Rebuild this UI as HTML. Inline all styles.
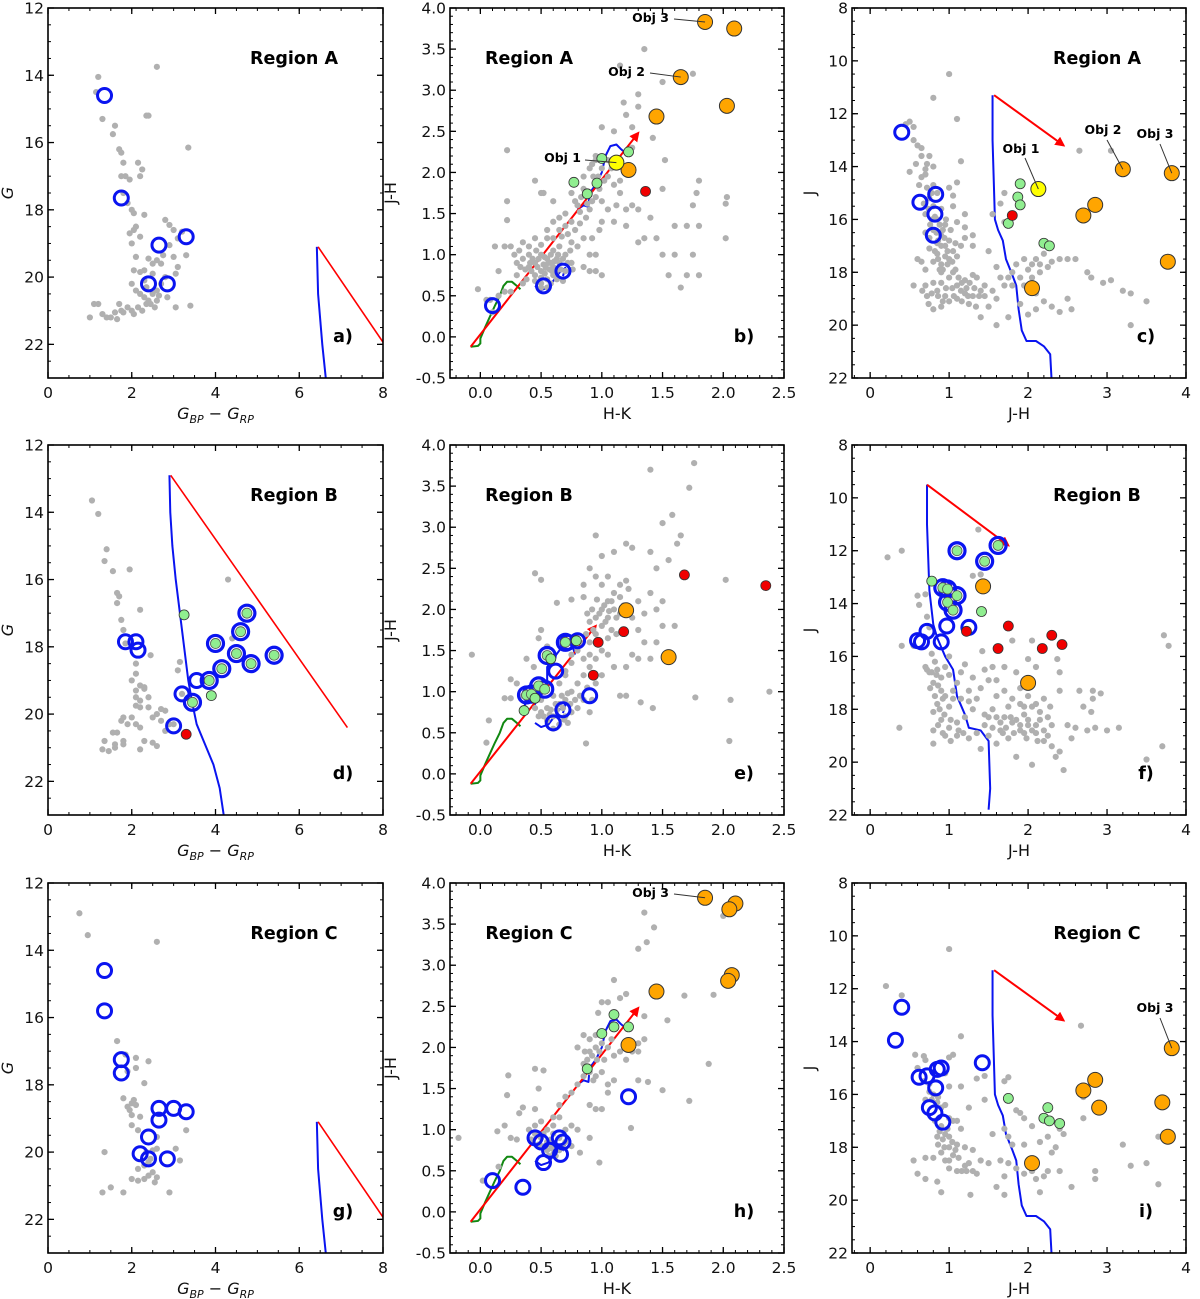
<!DOCTYPE html>
<html><head><meta charset="utf-8"><style>
html,body{margin:0;padding:0;background:#fff}
svg{display:block}
text{font-family:"DejaVu Sans","Liberation Sans",sans-serif}
</style></head><body>
<svg id="fig" xmlns="http://www.w3.org/2000/svg" width="1200" height="1299" viewBox="0 0 1200 1299"></svg>
<script>
// ---------------- DATA ----------------
const aGray=[[1.2,14.05],[1.15,14.5],[1.3,15.3],[1.6,15.5],[1.55,15.75],[1.7,16.2],[1.75,16.3],[1.8,16.6],[1.75,17],[1.85,17],[1.95,17.1],[2.15,16.6],[2.25,16.8],[2.2,17],[1.8,17.5],[1.9,17.8],[2.0,18],[2.05,18.1],[2.3,18.15],[2.35,15.2],[2.4,15.2],[2.6,13.75],[3.35,16.15],[1.95,18.7],[2.05,18.6],[2.1,18.5],[2.2,18.8],[2.0,19.0],[2.1,19.4],[2.05,19.8],[2.3,19.8],[2.4,19.45],[2.5,19.6],[2.6,19.5],[2.7,19.6],[2.8,18.3],[2.9,18.45],[3.0,18.6],[3.1,18.85],[3.2,18.65],[2.9,19.05],[3.0,19.4],[3.3,19.35],[2.0,20.2],[2.1,20.4],[2.2,20.5],[2.3,20.6],[2.4,20.7],[2.5,20.5],[2.6,20.4],[2.7,20.2],[2.8,20.0],[3.05,19.9],[3.1,19.7],[1.0,21.2],[1.1,20.8],[1.2,20.8],[1.3,21.1],[1.5,21.2],[1.65,21.25],[1.7,20.8],[1.75,21.0],[1.8,21.05],[1.9,20.9],[2.0,21.0],[2.05,21.1],[2.15,20.9],[2.25,21.0],[2.35,20.8],[2.45,20.8],[2.55,20.9],[2.65,20.55],[3.05,20.9],[3.4,20.85],[2.3,20.1],[2.5,19.9],[2.2,19.85],[2.35,20.3],[2.6,20.7],[1.4,21.2],[1.6,21.05],[2.75,19.35],[2.85,20.6]];
const aRings=[[1.35,14.6],[1.75,17.65],[2.65,19.05],[3.3,18.8],[2.4,20.2],[2.85,20.2]];
const gIso=[[6.42,19.1],[6.45,20.5],[6.55,22],[6.65,23.2]];
const gRed=[[6.45,19.1],[8.2,22.3]];
const bGray=[[0.45,0.9],[0.5,0.8],[0.55,0.95],[0.6,0.85],[0.5,1.0],[0.4,0.85],[0.35,0.95],[0.55,0.7],[0.6,0.75],[0.65,0.9],[0.7,1.0],[0.45,0.75],[0.5,0.65],[0.55,0.6],[0.6,1.05],[0.65,1.1],[0.7,0.8],[0.4,1.0],[0.3,0.9],[0.25,1.1],[0.2,1.1],[0.35,1.15],[0.45,1.2],[0.55,1.3],[0.65,1.3],[0.75,1.15],[0.8,1.1],[0.85,1.2],[0.9,1.0],[0.95,0.8],[1.0,0.75],[0.85,0.85],[0.75,0.9],[0.62,0.78],[0.58,0.9],[0.52,0.88],[0.48,0.95],[0.42,0.8],[0.38,0.7],[0.3,0.75],[0.2,0.55],[0.15,0.5],[0.05,0.45],[-0.02,0.58],[0.15,0.8],[0.25,0.55],[0.12,1.1],[0.22,1.42],[0.22,1.65],[0.22,2.27],[0.45,1.9],[0.5,1.75],[0.52,1.75],[0.6,1.65],[0.65,1.45],[0.7,1.5],[0.75,1.4],[0.8,1.6],[0.75,1.75],[0.85,1.8],[0.9,1.75],[0.85,1.95],[0.9,2.05],[0.95,2.15],[1.0,2.05],[0.95,2.2],[1.05,1.95],[1.1,1.85],[1.15,1.9],[1.0,1.65],[1.05,1.55],[1.1,1.4],[1.2,1.35],[1.3,1.15],[1.25,1.6],[1.3,1.55],[1.35,1.2],[1.4,1.45],[1.45,1.2],[1.5,1.0],[1.55,0.75],[1.6,1.0],[1.65,0.6],[1.7,0.75],[1.75,1.0],[1.8,0.75],[1.6,1.35],[1.7,1.35],[1.8,1.35],[1.75,1.6],[1.78,1.75],[1.8,1.9],[2.02,1.2],[2.02,1.62],[2.03,1.7],[1.5,1.8],[1.52,2.15],[1.42,2.42],[1.25,2.55],[1.2,2.7],[1.3,2.8],[1.3,2.95],[1.18,2.85],[1.15,3.3],[1.35,3.5],[1.5,3.1],[1.75,3.2],[1.25,2.3],[1.1,2.5],[1.0,2.55],[0.95,1.0],[0.9,0.8],[0.1,0.3],[0.08,0.45],[0.57,0.82],[0.53,0.77],[0.63,0.95],[0.47,0.85],[0.58,1.0]];
const bGray2=[[0.5,0.72],[0.54,0.84],[0.56,0.9],[0.59,0.8],[0.61,0.92],[0.63,0.7],[0.66,0.82],[0.68,0.95],[0.72,0.9],[0.74,1.05],[0.46,1.05],[0.43,0.95],[0.41,0.9],[0.37,0.82],[0.33,0.85],[0.28,1.0],[0.5,1.12],[0.55,1.2],[0.6,1.2],[0.67,1.22],[0.72,1.25],[0.78,1.3],[0.82,1.38],[0.87,1.45],[0.9,1.55],[0.92,1.65],[0.95,1.7],[0.98,1.8],[1.02,1.9],[0.88,1.62],[0.83,1.7],[0.78,1.65],[0.93,1.95],[0.97,1.95],[1.05,2.15],[1.08,2.05],[0.92,2.1],[0.82,1.52],[0.7,1.35],[0.6,1.4],[0.4,1.1],[0.5,0.6],[0.58,0.65],[0.53,0.97],[0.64,1.0],[0.45,0.68],[0.35,0.65],[0.32,1.05],[0.68,0.68],[0.76,0.82],[1.12,1.6],[1.15,1.75],[1.2,1.55],[1.0,1.4],[0.98,1.3],[0.92,1.2]];
const bRings=[[0.1,0.38],[0.52,0.62],[0.68,0.8]];
const bOrange=[[1.85,3.83],[2.09,3.75],[1.65,3.16],[2.03,2.81],[1.45,2.68],[1.22,2.03]];
const bYellow=[[1.12,2.12]];
const bGreen=[[0.77,1.88],[0.88,1.74],[0.96,1.87],[1.0,2.17],[1.22,2.25]];
const bRed=[[1.36,1.77]];
const ccGreen=[[-0.08,-0.12],[-0.02,-0.11],[0.0,-0.08],[0.0,-0.02],[0.04,0.12],[0.08,0.25],[0.12,0.38],[0.16,0.5],[0.19,0.62],[0.22,0.67],[0.26,0.67],[0.3,0.62],[0.33,0.58]];
const ccIsoLow=[[0.45,0.62],[0.5,0.57],[0.56,0.6],[0.6,0.68],[0.65,0.78],[0.7,0.84],[0.68,0.74]];
const ccIsoHigh=[[0.8,1.55],[0.85,1.6],[0.89,1.58],[0.9,1.75],[0.95,1.85],[1.0,2.0],[1.03,2.2],[1.07,2.32],[1.12,2.34],[1.16,2.28],[1.2,2.23],[1.22,2.22]];
const ccRedA=[[-0.08,-0.12],[1.3,2.48]];
const cGray=[[0.5,12.3],[0.45,12.4],[0.55,12.5],[0.65,13.3],[0.6,13.2],[0.75,13.6],[0.72,13.9],[0.8,14],[0.5,14.2],[0.65,14.4],[0.7,14.3],[0.8,14.7],[0.85,15.0],[0.75,15.2],[0.8,15.5],[0.9,15.6],[0.7,15.8],[0.85,16.0],[0.95,16.2],[0.8,16.4],[0.9,16.6],[1.0,16.8],[0.95,17.0],[1.05,17.2],[0.85,17.3],[0.75,17.1],[0.65,17.6],[0.7,17.9],[0.9,17.7],[1.0,17.5],[1.1,17.4],[1.15,17.0],[1.2,16.7],[1.3,16.6],[1.1,16.1],[1.2,15.8],[1.05,15.5],[1.0,14.8],[1.1,14.6],[1.15,13.8],[1.05,15.1],[0.9,18.0],[0.8,18.4],[0.85,18.7],[0.95,18.9],[1.0,19.1],[1.1,19.0],[1.2,18.8],[1.3,18.9],[1.4,18.7],[1.45,18.5],[1.3,18.1],[1.2,18.3],[1.1,18.5],[1.0,18.2],[0.9,19.3],[0.8,19.4],[0.7,18.5],[0.55,18.5],[0.6,17.5],[1.4,19.7],[1.5,19.3],[1.6,19.0],[1.7,18.5],[1.75,18.2],[1.8,18.5],[1.9,18.2],[2.0,17.9],[2.05,17.7],[2.1,17.5],[2.2,17.3],[2.3,17.6],[2.4,17.5],[2.5,17.5],[2.6,17.5],[2.1,18.8],[2.2,19.1],[2.3,19.3],[2.4,19.5],[2.5,19.0],[2.55,19.4],[2.75,18.0],[2.8,18.2],[2.95,18.4],[3.05,18.3],[3.2,18.7],[3.3,18.8],[3.5,19.1],[3.3,20],[2.65,13.4],[3.05,13.4],[1.7,15.0],[1.65,15.4],[1.55,15.8],[1.7,16.1],[1.3,17.0],[1.5,17.2],[1.6,17.8],[1.9,19.2],[2.0,19.6],[2.1,19.4],[1.6,20.0],[1.75,19.7],[1.0,10.5],[0.8,11.4],[1.1,12.2],[0.65,13.6],[0.55,13.0],[1.2,16.3],[1.35,18.2],[0.85,16.9],[0.95,17.4],[1.05,18.0],[0.9,18.4],[1.15,18.7],[0.75,16.7],[0.88,17.9],[1.25,19.2]];
const cGray2=[[0.72,14.8],[0.78,15.0],[0.74,15.6],[0.82,15.9],[0.88,16.2],[0.76,16.2],[0.84,16.5],[0.92,16.4],[0.86,16.8],[0.94,16.7],[0.98,17.2],[0.9,17.0],[0.8,17.6],[0.86,17.5],[0.92,17.9],[0.98,17.7],[1.04,17.6],[1.08,17.9],[1.12,18.2],[1.16,18.4],[1.22,18.6],[1.26,18.4],[1.32,18.6],[1.38,18.9],[1.04,18.6],[0.96,18.6],[0.86,18.9],[0.78,18.8],[0.72,18.9],[0.66,18.7],[0.92,19.1],[1.06,18.9],[1.16,19.1],[1.24,18.9],[1.34,19.3],[0.74,19.2],[1.45,18.9],[1.55,18.7],[1.65,18.2],[1.8,18.0],[1.85,17.7],[1.95,17.5],[2.05,18.2],[2.15,18.0],[2.25,17.8],[1.95,18.5],[2.15,17.7],[0.78,16.0],[0.7,16.5],[0.82,17.2],[0.96,16.0],[1.02,16.4],[1.08,16.9],[0.68,15.4],[0.62,14.7],[0.7,14.1],[0.58,13.9]];
const cRings=[[0.4,12.7],[0.63,15.35],[0.83,15.05],[0.82,15.8],[0.8,16.6]];
const cOrange=[[3.2,14.1],[3.82,14.25],[2.85,15.45],[2.7,15.85],[3.77,17.6],[2.05,18.6]];
const cYellow=[[2.13,14.85]];
const cGreen=[[1.9,14.65],[1.87,15.15],[1.9,15.45],[1.75,16.15],[2.2,16.9],[2.27,17.0]];
const cRed=[[1.8,15.85]];
const jIsoA=[[1.55,11.3],[1.55,13],[1.58,16],[1.62,16.4],[1.68,16.8],[1.72,17.5],[1.8,18.1],[1.85,18.5],[1.88,19.4],[1.92,20.2],[1.98,20.6],[2.1,20.6],[2.2,20.8],[2.28,21.1],[2.3,22.2]];
const jRedA=[[1.57,11.3],[2.45,13.2]];
const dGray=[[1.05,13.65],[1.2,14.05],[1.4,15.1],[1.35,15.45],[1.55,15.75],[1.95,15.7],[1.65,16.4],[1.7,16.5],[1.65,16.7],[1.75,17.2],[1.8,17.5],[2.2,16.9],[1.85,17.9],[2.1,18.5],[2.45,18.25],[2.1,18.8],[2.0,19.0],[2.2,19.15],[2.3,19.2],[2.1,19.3],[2.1,19.5],[2.2,19.6],[2.4,19.5],[2.1,19.75],[2.2,19.8],[2.4,19.8],[2.5,20.1],[2.6,20.0],[2.7,19.85],[2.8,19.9],[2.9,20.3],[2.7,20.2],[2.2,20.4],[2.1,20.3],[2.0,20.1],[1.9,20.3],[1.8,20.1],[1.75,20.2],[1.65,20.55],[1.55,20.55],[1.35,20.8],[1.3,21.05],[1.45,21.1],[1.6,20.9],[1.6,21.0],[1.8,20.8],[1.8,20.9],[2.2,21.05],[2.3,20.8],[2.5,20.85],[2.6,20.95],[2.8,20.5],[3.0,20.3],[3.1,18.7],[3.15,18.45],[3.2,19.4],[4.3,16.0],[4.4,17.75],[2.3,19.25]];
const dRings=[[1.85,17.85],[2.1,17.85],[2.15,18.1],[3.55,19.0],[3.2,19.4],[3.0,20.35]];
const dRingGreen=[[4.75,17.0],[4.6,17.55],[4.0,17.9],[4.5,18.2],[4.85,18.5],[5.4,18.25],[4.15,18.65],[3.85,19.0],[3.45,19.65]];
const dGreen=[[3.25,17.05],[3.9,19.45]];
const dRed=[[3.3,20.6]];
const dIso=[[2.9,12.9],[2.92,14],[2.97,15],[3.05,16],[3.15,17],[3.25,18],[3.35,19],[3.45,19.7],[3.55,20.3],[3.75,20.9],[3.95,21.5],[4.1,22.2],[4.22,23.2]];
const dRedV=[[2.93,12.9],[7.15,20.4]];
const eGray=[[0.5,0.75],[0.55,0.8],[0.6,0.7],[0.65,0.85],[0.7,0.9],[0.75,0.75],[0.6,0.95],[0.55,0.65],[0.65,0.6],[0.7,0.7],[0.8,0.8],[0.85,0.9],[0.9,0.75],[0.45,0.8],[0.5,0.9],[0.75,1.0],[0.8,1.1],[0.85,1.2],[0.9,1.3],[0.95,1.4],[1.0,1.5],[1.05,1.45],[1.1,1.3],[1.0,1.2],[0.95,1.1],[0.85,1.4],[0.8,1.5],[0.9,1.6],[0.95,1.7],[1.0,1.8],[1.05,1.9],[1.1,2.0],[1.15,1.95],[1.0,2.0],[0.95,1.9],[0.9,1.85],[1.05,2.1],[1.1,2.2],[1.15,2.3],[1.2,2.35],[1.0,2.3],[0.95,2.4],[1.25,1.9],[1.3,1.75],[1.35,1.6],[1.25,1.45],[1.2,1.3],[1.3,1.4],[1.4,1.4],[1.45,1.6],[1.5,1.8],[1.45,2.0],[1.4,2.2],[1.45,2.5],[1.55,2.6],[1.5,2.1],[1.6,1.8],[1.4,2.7],[1.5,3.05],[1.58,3.15],[1.65,2.9],[1.62,2.8],[1.2,2.8],[1.25,2.75],[1.1,2.7],[1.0,2.65],[0.95,2.9],[1.4,3.7],[1.72,3.48],[1.76,3.78],[2.02,2.36],[2.06,0.9],[2.38,1.0],[2.05,0.4],[1.77,0.93],[1.42,0.8],[1.32,0.87],[1.2,0.95],[1.15,0.95],[0.87,0.37],[0.35,0.95],[0.3,1.1],[0.25,1.15],[0.2,0.92],[0.25,0.92],[-0.07,1.45],[0.07,0.65],[0.05,0.38],[0.45,2.44],[0.5,2.36],[0.5,1.75],[0.48,1.65],[0.55,1.55],[0.38,1.4],[0.44,1.3],[0.63,2.08],[0.75,2.12],[0.85,2.15],[0.65,1.1],[0.7,1.25],[0.75,1.35],[0.6,0.55],[0.72,0.62],[0.58,0.78],[0.68,0.8]];
const eGray2=[[0.98,1.95],[1.02,2.05],[1.06,1.98],[1.08,2.1],[1.12,1.9],[0.92,2.0],[0.88,1.95],[0.96,2.12],[1.03,1.85],[1.08,1.75],[0.93,1.75],[0.87,1.7],[0.82,1.6],[0.9,1.45],[0.98,1.6],[1.05,1.65],[1.12,1.7],[0.75,1.45],[0.7,1.2],[0.62,0.85],[0.67,0.95],[0.72,0.98],[0.78,0.9],[0.82,0.95],[0.88,1.05],[0.92,0.9],[0.57,0.72],[0.63,0.78],[0.69,0.66],[0.74,0.85],[0.52,0.7],[0.48,0.7],[1.15,2.15],[1.18,2.05],[1.22,2.25],[0.85,2.3],[0.9,2.5],[1.05,2.4],[1.3,2.1],[1.35,1.95]];
const eRings=[[0.62,1.25],[0.9,0.95],[0.6,0.62],[0.68,0.78],[0.72,1.6],[0.8,1.62]];
const eRingGreen=[[0.38,0.96],[0.42,0.97],[0.48,1.07],[0.53,1.03],[0.55,1.44],[0.7,1.6]];
const eGreen=[[0.36,0.77],[0.58,1.4],[0.79,1.62],[0.45,0.92]];
const eRed=[[0.97,1.6],[1.18,1.73],[0.93,1.2],[1.68,2.42],[2.35,2.29]];
const eOrange=[[1.2,1.99],[1.55,1.42]];
const eIso=[[0.35,0.8],[0.4,0.92],[0.45,0.85],[0.5,1.0],[0.55,1.05],[0.55,1.3],[0.6,1.4],[0.65,1.5],[0.7,1.62],[0.76,1.55],[0.78,1.45]];
const ccRedB=[[-0.08,-0.12],[0.95,1.8]];
const fGray=[[0.22,12.25],[0.4,12.0],[1.37,11.2],[1.3,12.95],[1.4,12.9],[0.6,13.7],[0.62,14.05],[0.7,13.65],[0.72,14.5],[0.75,14.9],[0.55,15.6],[0.4,15.6],[0.78,15.9],[0.82,16.2],[0.7,16.4],[0.75,16.6],[0.85,16.5],[0.9,16.8],[0.8,17.0],[0.9,17.3],[0.95,17.5],[0.85,17.8],[0.8,18.1],[1.0,17.9],[1.05,17.3],[1.1,17.0],[1.0,16.7],[1.2,16.3],[1.3,16.8],[1.25,17.3],[1.35,17.6],[1.3,18.0],[1.2,18.3],[1.1,18.5],[0.9,18.4],[0.8,18.8],[0.95,19.0],[1.0,18.7],[1.1,19.0],[1.25,19.1],[1.35,18.9],[1.45,18.6],[1.5,18.3],[1.55,18.0],[1.6,17.5],[1.7,17.3],[1.8,17.6],[1.9,17.2],[2.0,17.5],[2.1,17.8],[2.2,17.6],[1.7,18.3],[1.8,18.5],[1.9,18.8],[2.0,18.6],[2.1,18.9],[2.2,19.2],[2.3,19.4],[2.4,19.6],[1.75,19.1],[1.6,19.3],[1.5,19.0],[1.4,19.5],[1.85,19.8],[2.05,20.1],[2.45,20.3],[2.35,19.8],[2.5,18.6],[2.6,18.7],[2.75,18.8],[2.85,18.7],[3.0,18.8],[3.15,18.7],[2.65,17.3],[2.82,17.3],[2.92,17.4],[2.82,17.6],[2.7,17.9],[2.8,18.1],[2.4,17.3],[2.4,16.6],[2.1,16.4],[2.0,16.1],[1.85,16.6],[1.7,16.4],[1.55,16.4],[1.45,16.5],[1.5,16.9],[1.42,15.8],[1.8,15.4],[2.05,15.4],[2.37,16.1],[0.37,18.7],[0.8,19.3],[3.72,15.2],[3.78,15.6],[3.7,19.4],[3.5,19.9],[1.0,16.0],[1.15,17.6],[2.25,18.3],[2.55,19.1],[1.95,17.9],[1.65,18.8]];
const fGray2=[[0.72,16.5],[0.78,16.6],[0.84,16.7],[0.76,17.2],[0.86,17.1],[0.92,17.6],[0.82,17.5],[0.88,18.0],[0.94,18.2],[1.02,18.4],[0.86,18.6],[0.92,18.9],[1.02,19.2],[1.12,18.8],[1.18,18.9],[1.6,18.3],[1.65,18.5],[1.72,18.7],[1.78,18.3],[1.85,18.4],[1.9,18.6],[1.95,18.9],[2.0,18.4],[2.05,18.8],[2.1,18.6],[2.15,18.4],[2.2,18.8],[2.25,19.0],[2.3,18.6],[1.68,18.9],[1.82,18.9],[1.98,19.1],[2.12,19.2],[1.9,17.8],[2.05,17.9],[2.15,18.1],[1.75,17.9],[1.95,18.2],[2.28,17.9],[1.55,18.7],[1.25,17.7],[1.05,17.6],[0.95,16.4],[1.15,16.6],[1.4,17.2],[1.6,16.9],[1.45,18.2]];
const fRings=[[0.72,15.05],[0.97,14.85],[1.25,14.9],[0.6,15.4],[0.65,15.45],[0.9,15.45]];
const fRingGreen=[[1.1,12.0],[1.45,12.4],[1.62,11.8],[0.92,13.4],[0.98,13.45],[1.1,13.7],[0.98,13.95],[1.05,14.25]];
const fGreen=[[0.78,13.15],[1.41,14.3]];
const fRed=[[1.22,15.05],[1.75,14.85],[1.62,15.7],[2.18,15.7],[2.3,15.2],[2.43,15.55]];
const fOrange=[[1.43,13.35],[2.0,17.0]];
const jIsoB=[[0.72,9.5],[0.72,11],[0.75,13.5],[0.8,14.8],[0.85,15.3],[0.95,16],[1.05,16.5],[1.1,17.5],[1.2,18.2],[1.25,18.7],[1.4,18.8],[1.5,19.2],[1.52,21],[1.5,21.8]];
const jRedB=[[0.72,9.5],[1.75,11.8]];
const gGray=[[0.75,12.9],[0.95,13.55],[2.6,13.75],[1.65,16.7],[1.85,17.1],[2.1,17.2],[2.4,17.3],[2.1,17.5],[1.9,17.6],[2.3,17.95],[1.8,18.4],[1.9,18.65],[2.0,18.55],[2.05,18.45],[2.1,18.6],[1.95,18.75],[2.0,18.9],[2.2,18.95],[2.0,19.2],[2.15,19.35],[2.6,19.55],[3.3,19.35],[2.5,19.95],[2.6,19.9],[3.05,19.9],[3.15,20.25],[2.4,20.3],[2.3,20.4],[2.15,20.5],[2.0,20.8],[2.15,20.85],[2.3,20.8],[2.4,20.7],[2.5,20.6],[2.6,20.75],[2.55,20.9],[2.9,21.2],[1.8,21.2],[1.5,21.05],[1.3,21.2],[1.35,20.0],[2.35,20.0],[2.45,20.2]];
const gRings=[[1.35,14.6],[1.35,15.8],[1.75,17.25],[1.75,17.65],[2.65,18.7],[3.0,18.7],[3.3,18.8],[2.65,19.05],[2.4,19.55],[2.2,20.05],[2.4,20.2],[2.85,20.2]];
const hGray=[[-0.18,0.9],[0.02,0.38],[0.15,0.55],[0.14,0.98],[0.2,1.05],[0.25,0.9],[0.3,0.88],[0.32,1.2],[0.35,1.27],[0.22,1.42],[0.23,1.66],[0.45,1.25],[0.48,1.5],[0.45,1.74],[0.52,1.72],[0.4,1.0],[0.45,1.05],[0.5,1.1],[0.55,1.0],[0.6,0.95],[0.65,0.9],[0.7,0.85],[0.75,0.8],[0.5,0.8],[0.55,0.75],[0.6,0.7],[0.65,0.75],[0.55,0.85],[0.5,0.9],[0.45,0.95],[0.6,1.15],[0.65,1.15],[0.7,1.0],[0.75,1.05],[0.8,1.0],[0.65,1.3],[0.7,1.4],[0.75,1.45],[0.8,1.55],[0.85,1.65],[0.9,1.7],[0.95,1.65],[1.0,1.7],[1.05,1.55],[1.1,1.6],[1.05,1.45],[0.9,1.3],[0.95,1.25],[1.0,1.25],[0.85,1.8],[0.9,1.95],[0.95,2.0],[0.8,2.0],[0.85,2.15],[0.9,2.1],[1.0,2.05],[1.05,2.0],[1.1,1.9],[1.15,1.95],[1.2,1.85],[1.25,1.95],[1.3,2.05],[1.35,2.1],[1.3,1.95],[1.3,1.6],[1.38,1.58],[1.5,1.48],[1.72,1.35],[1.88,1.8],[1.54,2.33],[1.35,2.38],[1.2,2.65],[1.15,2.6],[1.05,2.55],[1.0,2.55],[0.97,2.42],[1.1,2.82],[1.3,3.2],[1.37,3.28],[1.43,3.46],[1.35,3.64],[1.68,2.63],[1.92,2.64],[2.0,3.6],[1.24,1.02],[0.98,0.6],[0.9,0.9],[0.82,0.72]];
const hGray2=[[0.53,0.8],[0.57,0.82],[0.59,0.77],[0.62,0.8],[0.58,0.88],[0.52,0.95],[0.48,0.82],[0.62,0.68],[0.56,0.68],[0.68,0.78],[0.42,0.88],[0.6,1.05],[0.88,1.85],[0.92,1.9],[0.96,1.85],[0.98,1.95],[0.86,1.95],[0.93,1.6],[1.02,1.85],[1.08,2.1],[0.95,2.15]];
const hRings=[[0.1,0.38],[0.35,0.3],[1.22,1.4],[0.45,0.9],[0.5,0.85],[0.65,0.9],[0.68,0.85],[0.66,0.7],[0.52,0.6],[0.57,0.75]];
const hOrange=[[1.85,3.82],[2.1,3.75],[2.05,3.68],[2.07,2.88],[2.04,2.81],[1.45,2.68],[1.22,2.03]];
const hGreen=[[1.1,2.4],[1.1,2.25],[1.0,2.17],[1.22,2.25],[0.88,1.74]];
const iGray=[[0.2,11.9],[0.4,12.25],[1.0,10.5],[1.15,13.8],[0.57,14.5],[0.68,14.55],[0.7,14.7],[1.0,14.6],[1.05,14.5],[0.95,15.2],[1.0,15.7],[1.15,15.7],[0.75,15.9],[0.8,16.0],[0.7,16.2],[0.85,16.3],[0.95,16.4],[1.0,16.9],[1.05,17.0],[0.9,17.2],[0.95,17.5],[1.0,17.6],[0.85,17.6],[1.1,17.9],[1.0,18.0],[1.05,18.3],[0.95,18.5],[0.9,18.2],[0.8,18.4],[0.7,18.4],[0.55,18.5],[0.6,19.0],[0.7,19.2],[0.85,19.3],[0.9,19.7],[1.0,18.8],[1.1,18.9],[1.2,18.7],[1.25,18.6],[1.3,18.9],[1.35,19.0],[1.4,18.5],[1.3,18.1],[1.2,18.0],[1.15,17.3],[1.27,19.8],[1.5,18.6],[1.55,17.5],[1.65,18.5],[1.7,19.1],[1.75,18.6],[1.6,19.5],[1.7,19.8],[1.85,18.8],[1.95,19.0],[2.05,18.9],[2.1,19.2],[2.15,19.7],[2.2,19.1],[2.25,18.9],[1.7,17.3],[1.75,17.6],[1.8,17.9],[1.95,17.9],[1.85,16.6],[1.9,16.7],[1.95,16.9],[2.05,17.2],[2.15,17.8],[2.25,17.6],[2.4,17.3],[2.45,17.5],[2.35,18.0],[2.3,18.2],[2.4,18.9],[2.55,19.5],[2.7,16.9],[2.7,16.1],[2.67,13.4],[2.85,18.9],[2.85,19.2],[3.2,17.9],[3.3,18.7],[3.5,18.6],[3.65,19.4],[3.65,17.6],[1.7,15.5],[1.75,15.35],[1.45,15.3],[1.35,15.4],[1.45,16.2],[1.25,16.5],[1.1,17.0],[0.6,15.0]];
const iGray2=[[0.78,16.2],[0.86,16.1],[0.9,16.5],[0.82,17.0],[0.88,17.4],[0.92,17.7],[0.98,17.3],[1.04,17.8],[1.08,18.1],[1.12,18.4],[0.86,17.9],[0.94,18.0],[1.0,18.5],[1.16,18.9],[1.22,18.9],[0.75,15.6],[0.68,15.5]];
const iRings=[[0.4,12.7],[0.32,13.95],[1.42,14.8],[0.62,15.35],[0.72,15.3],[0.85,15.05],[0.9,15.0],[0.83,15.75],[0.75,16.5],[0.82,16.7],[0.92,17.05]];
const iOrange=[[3.82,14.25],[2.85,15.45],[2.7,15.85],[2.9,16.5],[3.7,16.3],[3.77,17.6],[2.05,18.6]];
const iGreen=[[1.75,16.15],[2.25,16.5],[2.2,16.9],[2.27,17.0],[2.4,17.1]];
const gX=[0,2,4,6,8], gY=[12,14,16,18,20,22];
const ccX=[0,0.5,1,1.5,2,2.5], ccY=[-0.5,0,0.5,1,1.5,2,2.5,3,3.5,4];
const jX=[0,1,2,3,4], jY=[8,10,12,14,16,18,20,22];

// ---------------- RENDER ----------------
const NS='http://www.w3.org/2000/svg';
const svg=document.getElementById('fig');
function mk(tag,attrs,parent){const e=document.createElementNS(NS,tag);for(const k in attrs)e.setAttribute(k,attrs[k]);(parent||svg).appendChild(e);return e;}
const defs=mk('defs',{});
const mkr=mk('marker',{id:'arr',viewBox:'0 0 10 10',refX:'8',refY:'5',markerWidth:'5',markerHeight:'5',orient:'auto'},defs);
mk('path',{d:'M0,0 L10,5 L0,10 z',fill:'red'},mkr);
let clipN=0;

function panel(o){
  const g=mk('g',{});
  
  
  const L=o.left,T=o.top,W=o.w,H=o.h;
  const X=v=>L+(v-o.x0)/(o.x1-o.x0)*W;
  const Y=v=>T+(v-o.y0)/(o.y1-o.y0)*H;
  const cid='clip'+(clipN++);
  const cp=mk('clipPath',{id:cid},defs);mk('rect',{x:L,y:T,width:W,height:H},cp);
  const pg=mk('g',{'clip-path':'url(#'+cid+')'},g);
  
  
  const line=(pts,col,w,nm,arrow)=>{const p=mk('polyline',{points:pts.map(q=>X(q[0])+','+Y(q[1])).join(' '),fill:'none',stroke:col,'stroke-width':w,'stroke-linejoin':'round'},pg);if(arrow)p.setAttribute('marker-end','url(#arr)');
    
    };
  (o.lines||[]).forEach(l=>line(l.pts,l.col,l.w,l.name,l.arrow));
  const dots=(pts,r,fill,stroke,sw,nm)=>{(pts||[]).forEach(q=>{const c=mk('circle',{cx:X(q[0]),cy:Y(q[1]),r:r,fill:fill,stroke:stroke,'stroke-width':sw},pg);
    
    });};
  dots(o.gray,3.1,'#b0b0b0','none',0,'field-star');
  dots(o.rings,7,'none','#0a14f0',3,'yso-candidate-ring');
  dots(o.ringGreen,8,'none','#0a14f0',3.2,'yso-candidate-ring');
  dots(o.ringGreen,5,'#90ee90','#555',0.8,'class-ii-source');
  dots(o.green,5,'#90ee90','#333',0.8,'class-ii-source');
  dots(o.red,5,'#f00000','#333',0.8,'class-i-source');
  dots(o.orange,7.5,'#ffa500','#333',1,'obj-source');
  dots(o.yellow,7.5,'#ffff00','#333',1,'obj1-source');
  (o.ann||[]).forEach(a=>{
    mk('line',{x1:a.lx,y1:a.ly,x2:X(a.p[0]),y2:Y(a.p[1]),stroke:'#333','stroke-width':1},g);
    const t=mk('text',{x:a.tx,y:a.ty,'font-size':'12.5','font-weight':'bold','text-anchor':a.anchor||'middle'},g);t.textContent=a.label;
    
    
  });
  const fr=mk('rect',{x:L,y:T,width:W,height:H,fill:'none',stroke:'#000','stroke-width':1.6},g);
  
  
  const tk=(x1,y1,x2,y2,w)=>mk('line',{x1,y1,x2,y2,stroke:'#000','stroke-width':w},g);
  const lo=Math.min(o.x0,o.x1),hi=Math.max(o.x0,o.x1);
  for(let v=Math.ceil(lo/o.xm-1e-9)*o.xm;v<=hi+1e-9;v+=o.xm){const px=X(v);tk(px,T+H,px,T+H-3,1);tk(px,T,px,T+3,1);}
  const ylo=Math.min(o.y0,o.y1),yhi=Math.max(o.y0,o.y1);
  for(let v=Math.ceil(ylo/o.ym-1e-9)*o.ym;v<=yhi+1e-9;v+=o.ym){const py=Y(v);tk(L,py,L+3,py,1);tk(L+W,py,L+W-3,py,1);}
  o.xt.forEach(v=>{const px=X(v);tk(px,T+H,px,T+H-6,1.3);tk(px,T,px,T+6,1.3);
    const t=mk('text',{x:px,y:T+H+20,'font-size':'15.5','text-anchor':'middle',fill:'#111'},g);t.textContent=o.fmt(v);
    
    });
  o.yt.forEach(v=>{const py=Y(v);tk(L,py,L+6,py,1.3);tk(L+W,py,L+W-6,py,1.3);
    const t=mk('text',{x:L-4,y:py+5.5,'font-size':'15.5','text-anchor':'end',fill:'#111'},g);t.textContent=o.fmt(v);
    
    });
  const xt=mk('text',{x:L+W/2,y:T+H+41,'font-size':'16','text-anchor':'middle',fill:'#111'},g);
  if(o.xlabel==='G'){xt.setAttribute('font-style','italic');xt.innerHTML='G<tspan font-size="11" dy="4">BP</tspan><tspan dy="-4"> − G</tspan><tspan font-size="11" dy="4">RP</tspan>';}
  else xt.textContent=o.xlabel;
  
  
  const yt=mk('text',{x:o.ylx,y:T+H/2,'font-size':'16','text-anchor':'middle',fill:'#111',transform:'rotate(-90 '+o.ylx+' '+(T+H/2)+')'},g);
  yt.textContent=o.ylabel;if(o.ylabel==='G')yt.setAttribute('font-style','italic');
  
  
  const rl=mk('text',{x:o.rx,y:T+56,'font-size':'17.5','font-weight':'bold','text-anchor':'middle'},g);rl.textContent=o.region;
  
  
  const pl=mk('text',{x:L+W-40,y:T+334,'font-size':'17.5','font-weight':'bold','text-anchor':'middle'},g);pl.textContent=o.letter;
  
  
}
const fmtInt=v=>String(v), fmt1=v=>v.toFixed(1);
const rows=[8,445,883];
const GC={left:48,w:335,h:370,x0:0,x1:8,y0:12,y1:23,xm:0.5,ym:0.5,xt:gX,yt:gY,fmt:fmtInt,xlabel:'G',ylabel:'G',ylx:13};
const CC={left:450,w:334,h:370,x0:-0.25,x1:2.5,y0:4,y1:-0.5,xm:0.1,ym:0.1,xt:ccX,yt:ccY,fmt:fmt1,xlabel:'H-K',ylabel:'J-H',ylx:396};
const JC={left:852,w:334,h:370,x0:-0.23,x1:4,y0:8,y1:22,xm:0.2,ym:0.5,xt:jX,yt:jY,fmt:fmtInt,xlabel:'J-H',ylabel:'J',ylx:815};
const ccLines=(iso,red)=>[{pts:ccGreen,col:'#118811',w:2,name:'dwarf-locus'},{pts:ccIsoLow,col:'#0a14f0',w:2,name:'isochrone'},{pts:iso,col:'#0a14f0',w:2,name:'isochrone'},{pts:red,col:'red',w:2,name:'reddening-vector',arrow:true}];

panel(Object.assign({},GC,{name:'panel-a',top:rows[0],region:'Region A',letter:'a)',rx:294,gray:aGray,rings:aRings,
  lines:[{pts:gIso,col:'#0a14f0',w:2,name:'isochrone'},{pts:gRed,col:'red',w:1.6,name:'reddening-vector'}]}));
panel(Object.assign({},CC,{name:'panel-b',top:rows[0],region:'Region A',letter:'b)',rx:529,gray:bGray.concat(bGray2),rings:bRings,orange:bOrange,yellow:bYellow,green:bGreen,red:bRed,
  lines:ccLines(ccIsoHigh,ccRedA),
  ann:[{label:'Obj 3',tx:669,ty:22,anchor:'end',lx:674,ly:19,p:bOrange[0]},{label:'Obj 2',tx:645,ty:76,anchor:'end',lx:650,ly:73,p:bOrange[2]},{label:'Obj 1',tx:581,ty:162,anchor:'end',lx:585,ly:160,p:bYellow[0]}]}));
panel(Object.assign({},JC,{name:'panel-c',top:rows[0],region:'Region A',letter:'c)',rx:1097,gray:cGray.concat(cGray2),rings:cRings,orange:cOrange,yellow:cYellow,green:cGreen,red:cRed,
  lines:[{pts:jIsoA,col:'#0a14f0',w:2,name:'isochrone'},{pts:jRedA,col:'red',w:2,name:'reddening-vector',arrow:true}],
  ann:[{label:'Obj 1',tx:1021,ty:153,lx:1025,ly:158,p:cYellow[0]},{label:'Obj 2',tx:1103,ty:134,lx:1107,ly:140,p:cOrange[0]},{label:'Obj 3',tx:1155,ty:138,lx:1160,ly:144,p:cOrange[1]}]}));
panel(Object.assign({},GC,{name:'panel-d',top:rows[1],region:'Region B',letter:'d)',rx:294,gray:dGray,rings:dRings,ringGreen:dRingGreen,green:dGreen,red:dRed,
  lines:[{pts:dIso,col:'#0a14f0',w:2,name:'isochrone'},{pts:dRedV,col:'red',w:1.6,name:'reddening-vector'}]}));
panel(Object.assign({},CC,{name:'panel-e',top:rows[1],region:'Region B',letter:'e)',rx:529,gray:eGray.concat(eGray2),rings:eRings,ringGreen:eRingGreen,green:eGreen,red:eRed,orange:eOrange,
  lines:ccLines(eIso,ccRedB)}));
panel(Object.assign({},JC,{name:'panel-f',top:rows[1],region:'Region B',letter:'f)',rx:1097,gray:fGray.concat(fGray2),rings:fRings,ringGreen:fRingGreen,green:fGreen,red:fRed,orange:fOrange,
  lines:[{pts:jIsoB,col:'#0a14f0',w:2,name:'isochrone'},{pts:jRedB,col:'red',w:2,name:'reddening-vector',arrow:true}]}));
panel(Object.assign({},GC,{name:'panel-g',top:rows[2],region:'Region C',letter:'g)',rx:294,gray:gGray,rings:gRings,
  lines:[{pts:gIso,col:'#0a14f0',w:2,name:'isochrone'},{pts:gRed,col:'red',w:1.6,name:'reddening-vector'}]}));
panel(Object.assign({},CC,{name:'panel-h',top:rows[2],region:'Region C',letter:'h)',rx:529,gray:hGray.concat(hGray2),rings:hRings,orange:hOrange,green:hGreen,
  lines:ccLines(ccIsoHigh,ccRedA),
  ann:[{label:'Obj 3',tx:669,ty:897,anchor:'end',lx:674,ly:894,p:hOrange[0]}]}));
panel(Object.assign({},JC,{name:'panel-i',top:rows[2],region:'Region C',letter:'i)',rx:1097,gray:iGray.concat(iGray2),rings:iRings,orange:iOrange,green:iGreen,
  lines:[{pts:jIsoA,col:'#0a14f0',w:2,name:'isochrone'},{pts:jRedA,col:'red',w:2,name:'reddening-vector',arrow:true}],
  ann:[{label:'Obj 3',tx:1155,ty:1012,lx:1160,ly:1018,p:iOrange[0]}]}));
</script>
</body></html>
